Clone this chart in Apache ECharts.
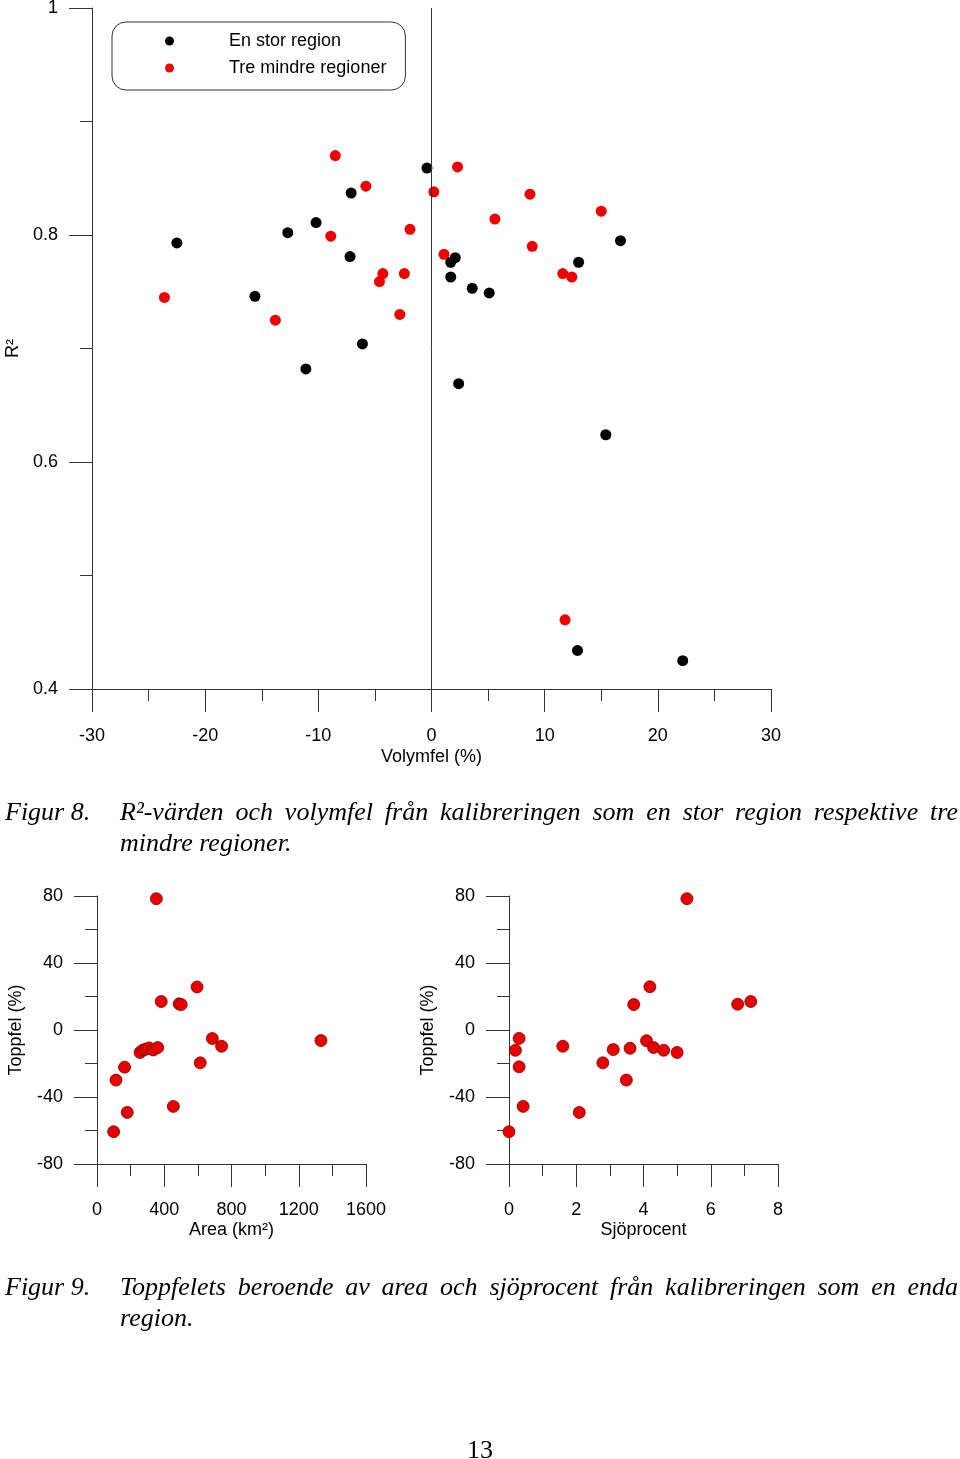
<!DOCTYPE html>
<html>
<head>
<meta charset="utf-8">
<script src="https://cdn.jsdelivr.net/npm/echarts@6/dist/echarts.min.js"></script>
<style>
  html, body { margin: 0; padding: 0; background: #fff; }
  #wrap { position: relative; width: 960px; height: 1459px; }
  #chart { position: absolute; left: 0; top: 0; width: 960px; height: 1459px; }
  .cap { position: absolute; font-family: 'Liberation Serif', 'Times New Roman', serif; font-style: italic; font-size: 26px; line-height: 31px; color: #000; }
  .just { text-align: justify; text-align-last: justify; white-space: nowrap; }
  #page { position: absolute; left: 0; width: 960px; text-align: center; top: 1435px; font-family: 'Liberation Serif', 'Times New Roman', serif; font-size: 26px; color: #000; }
</style>
</head>
<body>
<div id="wrap">
  <div id="chart"></div>
  <div class="cap" style="left:5px; top:796px;">Figur 8.</div>
  <div class="cap just" style="left:120px; top:796px; width:838px;">R²-värden och volymfel från kalibreringen som en stor region respektive tre</div>
  <div class="cap" style="left:120px; top:827px;">mindre regioner.</div>
  <div class="cap" style="left:5px; top:1271px;">Figur 9.</div>
  <div class="cap just" style="left:120px; top:1271px; width:838px;">Toppfelets beroende av area och sjöprocent från kalibreringen som en enda</div>
  <div class="cap" style="left:120px; top:1302px;">region.</div>
  <div id="page">13</div>
</div>
<script>
// ---- Figur 8 data ----
const blackVolymfel = [-22.5, -15.6, -12.7, -10.2, -11.1, -7.1, -7.2, -6.1, -0.4, 1.7, 2.1, 1.7, 3.6, 2.4, 5.1, 13.0, 16.7, 15.4, 12.9, 22.2];
const blackR2       = [0.793, 0.746, 0.802, 0.811, 0.682, 0.837, 0.781, 0.704, 0.859, 0.776, 0.780, 0.763, 0.753, 0.669, 0.749, 0.776, 0.795, 0.624, 0.434, 0.425];
const redVolymfel   = [-23.6, -13.8, -8.5, -5.8, -8.9, -1.9, -4.3, -4.6, -2.4, -2.8, 0.2, 1.1, 2.3, 8.7, 5.6, 15.0, 8.9, 11.6, 12.4, 11.8];
const redR2         = [0.745, 0.725, 0.870, 0.843, 0.799, 0.805, 0.766, 0.759, 0.766, 0.730, 0.838, 0.783, 0.860, 0.836, 0.814, 0.821, 0.790, 0.766, 0.763, 0.461];
const legendNames   = ['En stor region', 'Tre mindre regioner'];

// ---- Figur 9 data ----
const areaKm2      = [353, 382, 488, 501, 595, 686, 741, 1332, 614, 454, 180, 99, 113, 164, 256, 273, 290, 309, 335, 361];
const toppfelArea  = [78.4, 17.0, 15.6, 15.2, 25.7, -5.1, -9.7, -6.3, -19.6, -45.6, -49.2, -60.7, -29.9, -22.2, -13.4, -12.0, -11.5, -10.7, -11.9, -10.5];
const sjoprocent   = [5.29, 4.19, 3.71, 6.80, 7.19, 0.30, 0.19, 0.30, 0.42, 0.00, 1.60, 2.09, 2.79, 3.10, 3.49, 3.60, 4.09, 4.30, 4.60, 5.00];
const toppfelSjo   = [78.4, 25.8, 15.2, 15.4, 17.0, -5.0, -12.1, -22.0, -45.6, -60.7, -9.7, -49.2, -19.6, -11.7, -29.9, -10.9, -6.4, -10.5, -12.1, -13.4];

const zip = (a, b) => a.map((v, i) => [v, b[i]]);
const FONT = "'Liberation Sans', Arial, Helvetica, sans-serif";
const AX = '#333';
const plain = v => String(v);

function axisBase(extra, labelMargin) {
  return Object.assign({
    axisLine: { show: true, onZero: false, lineStyle: { color: AX, width: 1 } },
    axisTick: { show: true, length: 23, lineStyle: { color: AX, width: 1 } },
    minorTick: { show: true, splitNumber: 2, length: 12, lineStyle: { color: AX, width: 1 } },
    splitLine: { show: false },
    minorSplitLine: { show: false },
    axisLabel: { color: '#000', fontSize: 18, fontFamily: FONT, margin: labelMargin, formatter: plain },
    nameTextStyle: { color: '#000', fontSize: 18, fontFamily: FONT },
    nameLocation: 'middle'
  }, extra);
}

const chart = echarts.init(document.getElementById('chart'), null, { renderer: 'canvas' });
chart.setOption({
  animation: false,
  backgroundColor: '#fff',
  grid: [
    { left: 92, right: 189, top: 8, bottom: 770, containLabel: false, outerBoundsMode: 'none' },
    { left: 97, right: 594, top: 896, bottom: 295, containLabel: false, outerBoundsMode: 'none' },
    { left: 509, right: 182, top: 896, bottom: 295, containLabel: false, outerBoundsMode: 'none' }
  ],
  legend: {
    data: legendNames,
    orient: 'vertical',
    left: 112, top: 22,
    icon: 'circle',
    itemWidth: 9, itemHeight: 9,
    itemGap: 7,
    borderColor: AX, borderWidth: 1, borderRadius: 14,
    padding: [9, 19, 12, 53],
    textStyle: { color: '#000', fontSize: 18, fontFamily: FONT, lineHeight: 20, padding: [0, 0, 0, 50] },
    selectedMode: false
  },
  xAxis: [
    axisBase({ gridIndex: 0, type: 'value', min: -30, max: 30, interval: 10, name: 'Volymfel (%)', nameGap: 59 }, 38),
    axisBase({ gridIndex: 1, type: 'value', min: 0, max: 1600, interval: 400, name: 'Area (km²)', nameGap: 57 }, 37),
    axisBase({ gridIndex: 2, type: 'value', min: 0, max: 8, interval: 2, name: 'Sjöprocent', nameGap: 57 }, 37)
  ],
  yAxis: [
    axisBase({ gridIndex: 0, type: 'value', min: 0.4, max: 1, interval: 0.2, name: 'R²', nameGap: 66 }, 34),
    axisBase({ gridIndex: 1, type: 'value', min: -80, max: 80, interval: 40, name: 'Toppfel (%)', nameGap: 72 }, 34),
    axisBase({ gridIndex: 2, type: 'value', min: -80, max: 80, interval: 40, name: 'Toppfel (%)', nameGap: 72 }, 34)
  ],
  series: [
    {
      name: legendNames[0], type: 'scatter', xAxisIndex: 0, yAxisIndex: 0,
      data: zip(blackVolymfel, blackR2), symbolSize: 11,
      itemStyle: { color: '#000', opacity: 1 },
      markLine: {
        silent: true, symbol: ['none', 'none'],
        label: { show: false },
        lineStyle: { color: AX, type: 'solid', width: 1 },
        data: [{ xAxis: 0 }]
      }
    },
    {
      name: legendNames[1], type: 'scatter', xAxisIndex: 0, yAxisIndex: 0,
      data: zip(redVolymfel, redR2), symbolSize: 11,
      itemStyle: { color: '#ee0000', opacity: 1 }
    },
    {
      name: 'Area', type: 'scatter', xAxisIndex: 1, yAxisIndex: 1,
      data: zip(areaKm2, toppfelArea), symbolSize: 12,
      itemStyle: { color: '#e60000', borderColor: '#800000', borderWidth: 0.8, opacity: 1 }
    },
    {
      name: 'Sjöprocent', type: 'scatter', xAxisIndex: 2, yAxisIndex: 2,
      data: zip(sjoprocent, toppfelSjo), symbolSize: 12,
      itemStyle: { color: '#e60000', borderColor: '#800000', borderWidth: 0.8, opacity: 1 }
    }
  ]
});
</script>
</body>
</html>
